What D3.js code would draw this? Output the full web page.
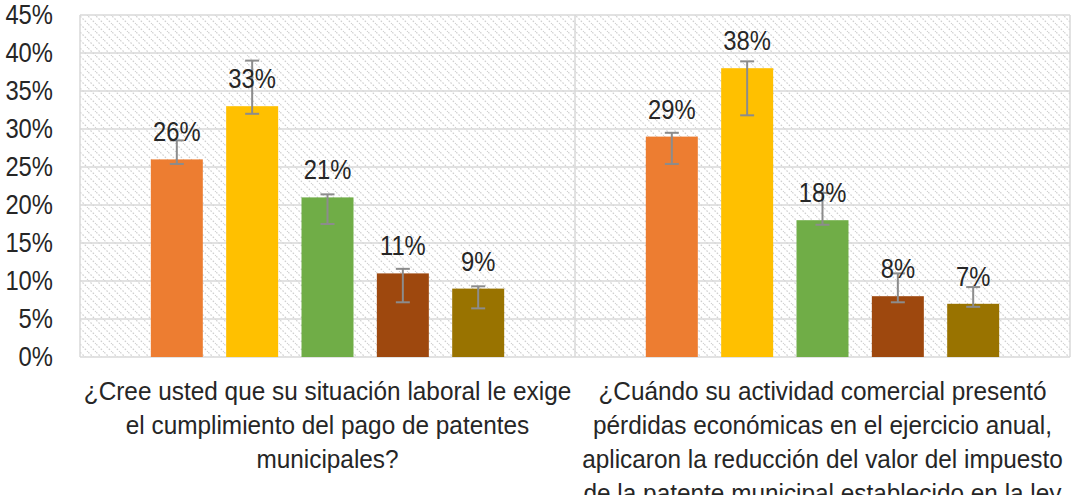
<!DOCTYPE html>
<html>
<head>
<meta charset="utf-8">
<script src="https://cdn.jsdelivr.net/npm/d3@7"></script>
<style>
  html, body { margin: 0; padding: 0; background: #fff; }
  svg { display: block; }
  text { font-family: "Liberation Sans", Arial, sans-serif; fill: #262626; }
</style>
</head>
<body>
<svg id="chart" width="1083" height="495"></svg>
<script>
// ---- data ----
const categories = [
  ["¿Cree usted que su situación laboral le exige", "el cumplimiento del pago de patentes", "municipales?"],
  ["¿Cuándo su actividad comercial presentó", "pérdidas económicas en el ejercicio anual,", "aplicaron la reducción del valor del impuesto", "de la patente municipal establecido en la ley"]
];
const categoryKeys = ["Q1", "Q2"];
const seriesNames = ["Serie 1", "Serie 2", "Serie 3", "Serie 4", "Serie 5"];
const seriesColors = ["#ED7D31", "#FFC000", "#70AD47", "#9E480E", "#997300"];
// values per category, by series
const valuesQ1 = [0.26, 0.33, 0.21, 0.11, 0.09];
const valuesQ2 = [0.29, 0.38, 0.18, 0.08, 0.07];
// error bar bounds
const lowQ1  = [0.254, 0.320, 0.175, 0.072, 0.064];
const highQ1 = [0.285, 0.390, 0.214, 0.116, 0.093];
const lowQ2  = [0.254, 0.318, 0.174, 0.072, 0.066];
const highQ2 = [0.295, 0.389, 0.216, 0.110, 0.092];
const yTicks = [0, 0.05, 0.10, 0.15, 0.20, 0.25, 0.30, 0.35, 0.40, 0.45];

const table = categoryKeys.map((k, ci) => ({
  key: k,
  lines: categories[ci],
  values: ci === 0 ? valuesQ1 : valuesQ2,
  low: ci === 0 ? lowQ1 : lowQ2,
  high: ci === 0 ? highQ1 : highQ2
}));

// ---- layout ----
const svg = d3.select("#chart");
const plot = { left: 80, right: 1070, top: 15, bottom: 357 };
const numScale = 0.85;   // horizontal condensing of number text
const catScale = 0.975;

const x0 = d3.scaleBand().domain(categoryKeys).range([plot.left, plot.right]).padding(0);
const x1 = d3.scaleBand().domain(seriesNames).range([0, x0.bandwidth()])
  .paddingInner(0.31).paddingOuter(0.94);
const y = d3.scaleLinear().domain([0, 0.45]).range([plot.bottom, plot.top]);
const color = d3.scaleOrdinal().domain(seriesNames).range(seriesColors);

// pattern background
const defs = svg.append("defs");
const pat = defs.append("pattern").attr("id", "hatch").attr("patternUnits", "userSpaceOnUse")
  .attr("width", 8).attr("height", 8);
pat.append("rect").attr("width", 8).attr("height", 8).attr("fill", "#fff");
pat.append("path").attr("d", "M-2,-2 L10,10 M-2,6 L2,10 M6,-2 L10,2")
  .attr("stroke", "#cfcfcf").attr("stroke-width", 1.2).attr("stroke-dasharray", "1.6,1.6");

svg.append("rect")
  .attr("x", plot.left).attr("y", plot.top)
  .attr("width", plot.right - plot.left).attr("height", plot.bottom - plot.top)
  .attr("fill", "url(#hatch)");

// gridlines
svg.append("g").selectAll("line").data(yTicks).join("line")
  .attr("x1", plot.left).attr("x2", plot.right)
  .attr("y1", d => y(d)).attr("y2", d => y(d))
  .attr("stroke", "#d9d9d9").attr("stroke-width", 1.5);

// vertical borders / divider
const vx = [plot.left, x0("Q2"), plot.right];
svg.append("g").selectAll("line").data(vx).join("line")
  .attr("x1", d => d).attr("x2", d => d)
  .attr("y1", plot.top).attr("y2", plot.bottom)
  .attr("stroke", "#d9d9d9").attr("stroke-width", 1.5);

// y axis labels
const tickPad = 27;
const yAxis = d3.axisLeft(y).tickValues(yTicks).tickFormat(d3.format(".0%")).tickSize(0).tickPadding(tickPad);
const ya = svg.append("g").attr("transform", `translate(${plot.left},0)`).call(yAxis);
ya.select(".domain").remove();
ya.selectAll("text")
  .attr("x", -tickPad / numScale)
  .attr("transform", `scale(${numScale},1)`)
  .attr("font-size", 28).style("fill", "#262626")
  .style("font-family", '"Liberation Sans", Arial, sans-serif');

// bars
const groups = svg.append("g").selectAll("g").data(table).join("g")
  .attr("transform", d => `translate(${x0(d.key)},0)`);

groups.selectAll("rect").data(d => seriesNames.map((s, i) => ({ s, v: d.values[i] }))).join("rect")
  .attr("x", d => x1(d.s)).attr("width", x1.bandwidth())
  .attr("y", d => y(d.v)).attr("height", d => y(0) - y(d.v))
  .attr("fill", d => color(d.s));

// error bars
const cap = 7;
const eb = groups.selectAll("g.eb").data(d => seriesNames.map((s, i) => ({ s, lo: d.low[i], hi: d.high[i] }))).join("g")
  .attr("class", "eb").attr("stroke", "#8c8c8c").attr("stroke-width", 2);
eb.append("line")
  .attr("x1", d => x1(d.s) + x1.bandwidth() / 2).attr("x2", d => x1(d.s) + x1.bandwidth() / 2)
  .attr("y1", d => y(d.lo)).attr("y2", d => y(d.hi));
eb.append("line")
  .attr("x1", d => x1(d.s) + x1.bandwidth() / 2 - cap).attr("x2", d => x1(d.s) + x1.bandwidth() / 2 + cap)
  .attr("y1", d => y(d.lo)).attr("y2", d => y(d.lo));
eb.append("line")
  .attr("x1", d => x1(d.s) + x1.bandwidth() / 2 - cap).attr("x2", d => x1(d.s) + x1.bandwidth() / 2 + cap)
  .attr("y1", d => y(d.hi)).attr("y2", d => y(d.hi));

// value labels
groups.selectAll("text.val").data(d => seriesNames.map((s, i) => ({ s, v: d.values[i] }))).join("text")
  .attr("class", "val")
  .attr("transform", d => `translate(${x1(d.s) + x1.bandwidth() / 2},${y(d.v) - 18}) scale(${numScale},1)`)
  .attr("text-anchor", "middle")
  .attr("font-size", 28)
  .text(d => d3.format(".0%")(d.v));

// category labels
const cl = svg.append("g").selectAll("text").data(table).join("text")
  .attr("transform", d => `translate(${x0(d.key) + x0.bandwidth() / 2},400) scale(${catScale},1)`)
  .attr("text-anchor", "middle")
  .attr("font-size", 25);
cl.selectAll("tspan").data(d => d.lines).join("tspan")
  .attr("x", 0)
  .attr("dy", (d, i) => i === 0 ? 0 : 34)
  .text(d => d);
</script>
</body>
</html>
